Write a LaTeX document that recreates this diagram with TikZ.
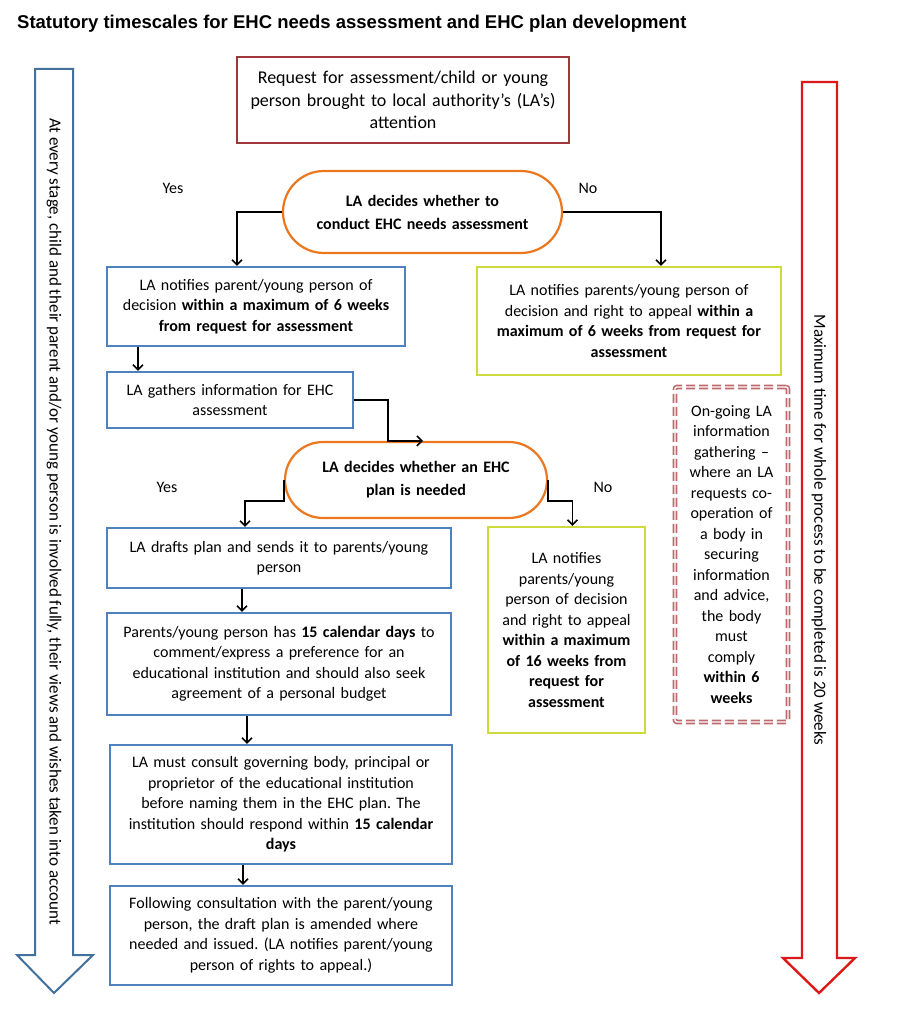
\documentclass[tikz,border=0pt]{standalone}
\usepackage{fontspec}
\setmainfont{Carlito}
\newfontfamily\titlefont{Liberation Sans}
\usetikzlibrary{arrows.meta,shapes.misc}
\frenchspacing

\definecolor{ehcblue}{RGB}{79,129,189}
\definecolor{ehcred}{RGB}{160,55,60}
\definecolor{ehcorange}{RGB}{235,120,30}
\definecolor{ehcyellow}{RGB}{205,220,60}
\definecolor{ehcpink}{RGB}{190,105,110}
\definecolor{bigred}{RGB}{220,25,25}
\definecolor{bigblue}{RGB}{65,113,156}

\begin{document}
\begin{tikzpicture}[x=1pt, y=-1pt,
  every node/.style={font=\fontsize{16}{20.5}\selectfont, align=center, inner sep=0pt},
  flowbox/.style={draw=ehcblue, line width=2.2pt},
  decision/.style={draw=ehcorange, line width=2.2pt, rounded rectangle,
    font=\bfseries\fontsize{16}{23}\selectfont}]

\useasboundingbox (0,0) rectangle (899,1024);
\fill[white] (0,0) rectangle (899,1024);

\node[anchor=base west, font=\titlefont\bfseries\fontsize{18.5}{22}\selectfont] (title) at (17,29)
  {Statutory timescales for EHC needs assessment and EHC plan development};

% side arrows
\draw[bigblue, line width=2pt] (35,69) -- (73,69) -- (73,955) -- (93,955) -- (54,993) -- (17,955) -- (35,955) -- cycle;
\draw[bigred, line width=2.4pt] (802,82) -- (837,82) -- (837,958) -- (855,958) -- (819,993) -- (783,958) -- (802,958) -- cycle;
\node[rotate=-90, font=\fontsize{17}{20}\selectfont] (involved) at (54,521.5) {At every stage, child and their parent and/or young person is involved fully, their views and wishes taken into account};
\node[rotate=-90, font=\fontsize{17}{20}\selectfont] (maxtime) at (819,530) {Maximum time for whole process to be completed is 20 weeks};

\node[draw=ehcred, line width=2.2pt, minimum width=332, minimum height=86, text width=324,
  font=\fontsize{18}{22.5}\selectfont] (request) at (403,100)
  {Request for assessment/child or young\\person brought to local authority’s (LA’s)\\attention};

\node[decision, minimum width=279, minimum height=82, text width=260] (conduct) at (422.5,212)
  {LA decides whether to\\conduct EHC needs assessment};

\node[flowbox, minimum width=298, minimum height=79, text width=290] (notify) at (256,306.5)
  {LA notifies parent/young person of\\decision \textbf{within a maximum of 6 weeks}\\\textbf{from request for assessment}};

\node[draw=ehcyellow, line width=2.2pt, minimum width=304, minimum height=108, text width=296] (refuse) at (629,321)
  {LA notifies parents/young person of\\decision and right to appeal \textbf{within a}\\\textbf{maximum of 6 weeks from request for}\\\textbf{assessment}\par\vspace{12pt}};

\node[flowbox, minimum width=246, minimum height=56, text width=236] (gather) at (230,400)
  {LA gathers information for EHC\\assessment};

\node[decision, minimum width=262, minimum height=76, text width=240] (plan) at (416,480)
  {LA decides whether an EHC\\plan is needed};

\node[flowbox, minimum width=344, minimum height=60, text width=336] (draft) at (279,558)
  {LA drafts plan and sends it to parents/young\\person};

\node[flowbox, minimum width=344, minimum height=102, text width=336] (prefer) at (279,664)
  {Parents/young person has \textbf{15 calendar days} to\\comment/express a preference for an\\educational institution and should also seek\\agreement of a personal budget};

\node[flowbox, minimum width=342, minimum height=119, text width=334] (consult) at (281,804.5)
  {LA must consult governing body, principal or\\proprietor of the educational institution\\before naming them in the EHC plan. The\\institution should respond within \textbf{15 calendar}\\\textbf{days}};

\node[flowbox, minimum width=342, minimum height=99, text width=334] (issue) at (281,935.5)
  {Following consultation with the parent/young\\person, the draft plan is amended where\\needed and issued. (LA notifies parent/young\\person of rights to appeal.)};

\node[draw=ehcyellow, line width=2.2pt, minimum width=157, minimum height=206, text width=150] (refuse2) at (566.5,630)
  {LA notifies\\parents/young\\person of decision\\and right to appeal\\\textbf{within a maximum}\\\textbf{of 16 weeks from}\\\textbf{request for}\\\textbf{assessment}\par\vspace{24pt}};

\node[draw=ehcpink, line width=1.6pt, double=white, double distance=1.4pt, dash pattern=on 9pt off 4pt,
  rounded corners=2pt, minimum width=113, minimum height=335, text width=108] (ongoing) at (731.5,554.5)
  {On-going LA\\information\\gathering –\\where an LA\\requests co-\\operation of\\a body in\\securing\\information\\and advice,\\the body\\must\\comply\\\textbf{within 6}\\\textbf{weeks}};

\node (yes1) at (173,188) {Yes};
\node (no1) at (588,188) {No};
\node (yes2) at (167,487) {Yes};
\node (no2) at (603,487) {No};

\begin{scope}[line width=1.6pt, -{Straight Barb[length=5pt,width=10pt]}]
\draw (conduct.west) -| ([xshift=-19pt]notify.north);
\draw (conduct.east) -| ([xshift=32pt]refuse.north);
\draw ([xshift=32pt]notify.south west) -- ([xshift=32pt]gather.north west);
\draw (gather.east) -| ([xshift=-28pt]plan.north) -- ([xshift=7pt]plan.north);
\draw (plan.west) -- ++(0,21) -| ([xshift=-34pt]draft.north);
\draw (plan.east) -- ++(0,21) -| ([xshift=6pt]refuse2.north);
\draw ([xshift=-37pt]draft.south) -- ([xshift=-37pt]prefer.north);
\draw ([xshift=-32pt]prefer.south) -- ([xshift=-34pt]consult.north);
\draw ([xshift=-38pt]consult.south) -- ([xshift=-38pt]issue.north);
\end{scope}

\end{tikzpicture}
\end{document}
